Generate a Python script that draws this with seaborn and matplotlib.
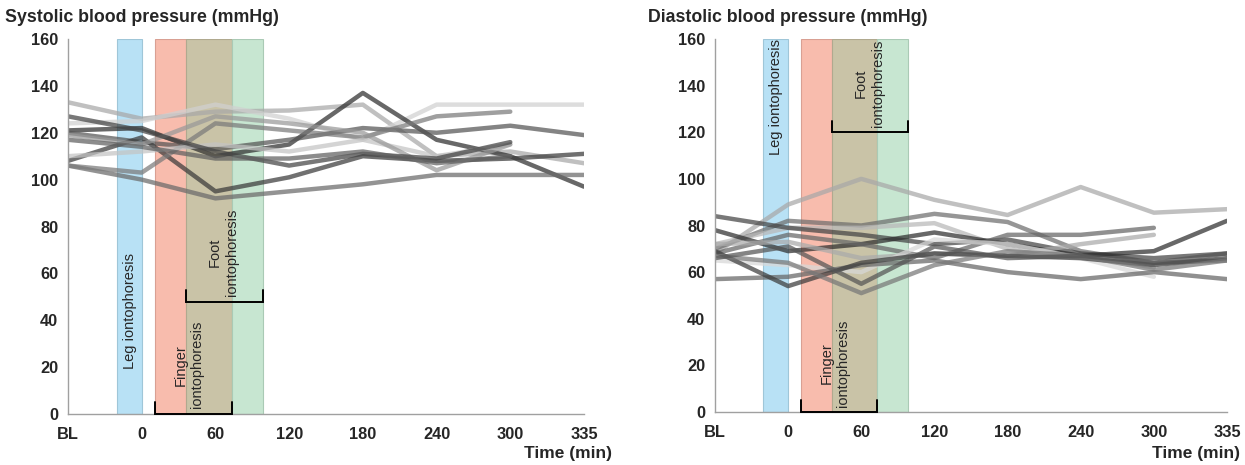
import numpy as np
import pandas as pd
import seaborn as sns
import matplotlib.pyplot as plt

times = ['BL', '0', '60', '120', '180', '240', '300', '335']
nan = np.nan

# systolic readings per subject (mmHg)
systolic = [
    [133, 126, 129, 129.5, 132, 110, 112, 107],
    [124, 125, 132, 126, 117, 132, 132, 132],
    [121, 122, 110, 115, 137, 117, 110, 97],
    [120, 116, 113, 117, 122, 120, 123, 119],
    [106, 100, 92, 95, 98, 102, 102, 102],
    [108, 118, 95, 101, 110, 108, 109, 111],
    [106, 103, 124, 121, 118, 127, 129, nan],
    [110, 112, 115, 112, 117, 110, 115, nan],
    [119, 115, 127, 124, 120, 104, 115, nan],
    [127, 121, 112, 106, 111, 109, 116, nan],
    [117, 114, 109, 109, 112, 107, 110, nan],
]
systolic_grey = ['#a8a8a8', '#d0d0d0', '#2e2e2e', '#555555', '#6a6a6a', '#3a3a3a',
                 '#7a7a7a', '#c4c4c4', '#999999', '#444444', '#606060']

# diastolic readings per subject (mmHg)
diastolic = [
    [68, 89, 100, 91, 84.5, 96.5, 85.5, 87],
    [70, 82, 80, 85, 81.5, 69, 64, 65],
    [72, 79, 79, 81, 70, 67, 62, nan],
    [84, 79, 76, 72, 74, 68, 66, 68],
    [78, 69, 72, 77, 72, 67, 69, 82],
    [68, 76, 72, 66, 76, 76, 79, nan],
    [72, 73, 66, 68, 67, 72, 76, nan],
    [65, 63, 60, 74, 72, 66, 58, nan],
    [57, 58, 63, 65, 60, 57, 60, 57],
    [69, 54, 64, 68, 67, 66, 63, 66],
    [67, 64, 51, 63, 69, 67, 61, 65],
    [66, 71, 55, 71, 66, 67, 64, 68],
]
diastolic_grey = ['#a8a8a8', '#6e6e6e', '#b8b8b8', '#444444', '#2e2e2e', '#666666',
                  '#aaaaaa', '#d8d8d8', '#666666', '#3c3c3c', '#777777', '#555555']

# iontophoresis periods, in x-axis category units
leg_span = (0.66, 1.0)
finger_span = (1.18, 2.22)
foot_span = (1.6, 2.64)


def long_table(rows):
    recs = []
    for i, row in enumerate(rows):
        for j, v in enumerate(row):
            recs.append({'subject': i, 'pos': j, 'value': v})
    return pd.DataFrame(recs).dropna()


def bracket(ax, x0, x1, y, h=5):
    ax.plot([x0, x0, x1, x1], [y + h, y, y, y + h], color='black', lw=1.4,
            clip_on=False, zorder=5, solid_joinstyle='miter')


def panel(ax, rows, greys, leg_y, foot_y, foot_br):
    # shaded periods
    ax.axvspan(*leg_span, color='#b8e1f5', ec='#9fc6d8', lw=0.8, zorder=1)
    ax.axvspan(finger_span[0], foot_span[0], color='#f8bcad', ec='#d9a093', lw=0.8, zorder=1)
    ax.axvspan(foot_span[0], finger_span[1], color='#c9c3a7', ec='#b0a98f', lw=0.8, zorder=1)
    ax.axvspan(finger_span[1], foot_span[1], color='#c7e6d1', ec='#aacab5', lw=0.8, zorder=1)

    df = long_table(rows)
    sns.lineplot(data=df, x='pos', y='value', hue='subject', units='subject',
                 estimator=None, palette=greys, lw=3.2, alpha=0.72, legend=False,
                 ax=ax, zorder=2)

    ax.set_xlim(0, len(times) - 1)
    ax.set_ylim(0, 160)
    ax.set_xticks(range(len(times)))
    ax.set_xticklabels(times)
    ax.set_yticks(range(0, 161, 20))
    ax.set_xlabel('')
    ax.set_ylabel('')
    for s in ['top', 'right']:
        ax.spines[s].set_visible(False)
    for s in ['left', 'bottom']:
        ax.spines[s].set_color('#a0a0a0')
        ax.spines[s].set_linewidth(1.0)
    ax.tick_params(axis='both', length=4, width=1, color='#a0a0a0', pad=3,
                   labelsize=11.8)
    ax.tick_params(axis='x', pad=5)
    for lab in ax.get_xticklabels() + ax.get_yticklabels():
        lab.set_fontweight('bold')

    ax.text(sum(leg_span) / 2 + 0.01, leg_y, 'Leg iontophoresis', rotation=90,
            ha='center', va='center', fontsize=10.5, zorder=6)
    ax.text(1.64, 21, 'Finger\niontophoresis', rotation=90, ha='center',
            va='center', multialignment='center', fontsize=10.5, linespacing=1.25,
            zorder=6)
    ax.text(2.11, foot_y, 'Foot\niontophoresis', rotation=90, ha='center',
            va='center', multialignment='center', fontsize=10.5, linespacing=1.25,
            zorder=6)
    bracket(ax, finger_span[0], finger_span[1], 0)
    bracket(ax, foot_span[0], foot_span[1], foot_br)


sns.set_style('white')
plt.rcParams['font.family'] = ['Liberation Sans', 'DejaVu Sans']

fig = plt.figure(figsize=(12.45, 4.65), dpi=100)
ax1 = fig.add_axes([68 / 1245, 51 / 465, 516 / 1245, 375 / 465])
ax2 = fig.add_axes([715 / 1245, 53 / 465, 512 / 1245, 373 / 465])

panel(ax1, systolic, systolic_grey, leg_y=44, foot_y=69, foot_br=48)
panel(ax2, diastolic, diastolic_grey, leg_y=135, foot_y=141, foot_br=120)

fig.text(5 / 1245, 1 - 17 / 465, 'Systolic blood pressure (mmHg)', fontsize=12.8,
         fontweight='bold', va='center', ha='left')
fig.text(648 / 1245, 1 - 17 / 465, 'Diastolic blood pressure (mmHg)', fontsize=12.8,
         fontweight='bold', va='center', ha='left')
fig.text(612 / 1245, 1 - 453 / 465, 'Time (min)', fontsize=12.5, fontweight='bold',
         va='center', ha='right')
fig.text(1240 / 1245, 1 - 453 / 465, 'Time (min)', fontsize=12.5, fontweight='bold',
         va='center', ha='right')

fig.savefig('out.png', dpi=100)
